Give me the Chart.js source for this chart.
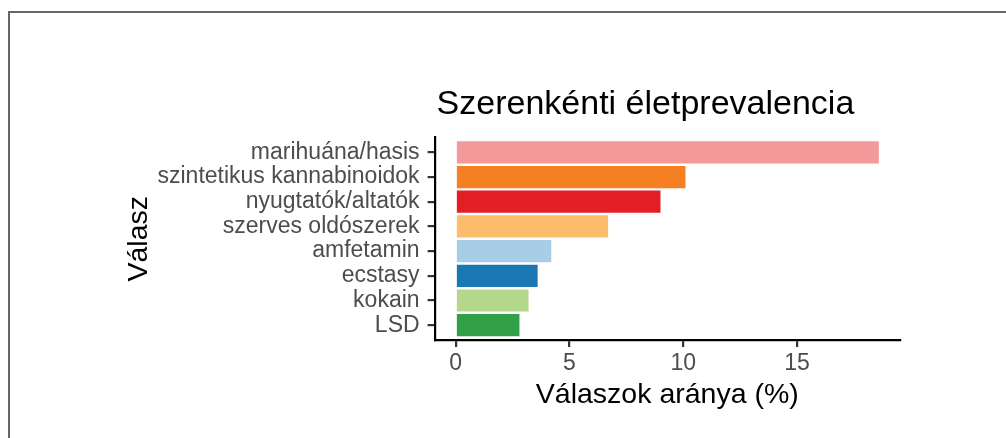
<!DOCTYPE html>
<html>
<head>
<meta charset="utf-8">
<script src="https://cdn.jsdelivr.net/npm/chart.js@4"></script>
<style>
  html, body { margin: 0; padding: 0; background: #fff; overflow: hidden; }
  #frame { position: absolute; left: 8px; top: 11px; width: 1100px; height: 500px; border: 2px solid #666; }
  #wrap { position: absolute; left: 0; top: 0; width: 1006px; height: 438px; }
</style>
</head>
<body>
<div id="frame"></div>
<div id="wrap"><canvas id="chart" width="1006" height="438"></canvas></div>
<script>
const labels = [
  "marihuána/hasis",
  "szintetikus kannabinoidok",
  "nyugtatók/altatók",
  "szerves oldószerek",
  "amfetamin",
  "ecstasy",
  "kokain",
  "LSD",
];
const values = [18.6, 10.1, 9.0, 6.7, 4.2, 3.6, 3.2, 2.8];
const colors = ["#F4999A", "#F58023", "#E31E25", "#FBBD6C", "#A8CDE6", "#1B77B4", "#B3D78B", "#31A046"];
const xTicks = [0, 5, 10, 15];

const title = "Szerenkénti életprevalencia";
const font = "'Liberation Sans', Arial, Helvetica, sans-serif";

// ggplot-style 5% expansion of the value axis
const xMax = Math.max(...values) * 1.05;
const xMin = -Math.max(...values) * 0.05;

const titlePlugin = {
  id: "leftTitle",
  afterDraw(chart) {
    const ctx = chart.ctx;
    ctx.save();
    ctx.font = "34px " + font;
    ctx.fillStyle = "#000";
    ctx.textAlign = "left";
    ctx.textBaseline = "alphabetic";
    ctx.fillText(title, chart.chartArea.left + 2, 114);
    ctx.restore();
  },
};

new Chart(document.getElementById("chart"), {
  type: "bar",
  data: {
    datasets: [
      {
        data: values.map((v, i) => ({ x: v, y: i })),
        backgroundColor: colors,
        borderWidth: 0,
        barPercentage: 0.9,
        categoryPercentage: 1.0,
      },
    ],
  },
  options: {
    indexAxis: "y",
    responsive: false,
    animation: false,
    layout: { padding: { left: 125, right: 106, top: 137.5, bottom: 29 } },
    plugins: {
      legend: { display: false },
      tooltip: { enabled: false },
    },
    scales: {
      x: {
        type: "linear",
        min: xMin,
        max: xMax,
        afterBuildTicks: (s) => { s.ticks = xTicks.map((v) => ({ value: v })); },
        afterFit: (s) => { s.height = 69; },
        grid: { drawOnChartArea: false, drawTicks: true, tickLength: 7, color: "#333", lineWidth: 2.2 },
        border: { display: true, color: "#000", width: 2.2 },
        ticks: { color: "#4D4D4D", font: { family: font, size: 23 }, padding: 3, maxRotation: 0 },
        title: { display: true, text: "Válaszok aránya (%)", color: "#000", font: { family: font, size: 28.5, lineHeight: 1 }, padding: 0 },
      },
      y: {
        type: "linear",
        reverse: true,
        offset: false,
        min: -0.6,
        max: labels.length - 0.4,
        afterBuildTicks: (s) => { s.ticks = labels.map((_, i) => ({ value: i })); },
        afterFit: (s) => { s.width = 434.6 - 125; },
        grid: { offset: false, drawOnChartArea: false, drawTicks: true, tickLength: 7, color: "#333", lineWidth: 2.2 },
        border: { display: true, color: "#000", width: 2.2 },
        ticks: {
          autoSkip: false,
          color: "#4D4D4D",
          font: { family: font, size: 23 },
          padding: 8,
          callback: (v) => labels[v],
        },
        title: { display: true, text: "Válasz", color: "#000", font: { family: font, size: 28.5, lineHeight: 1 }, padding: 0 },
      },
    },
  },
  plugins: [titlePlugin],
});
</script>
</body>
</html>
